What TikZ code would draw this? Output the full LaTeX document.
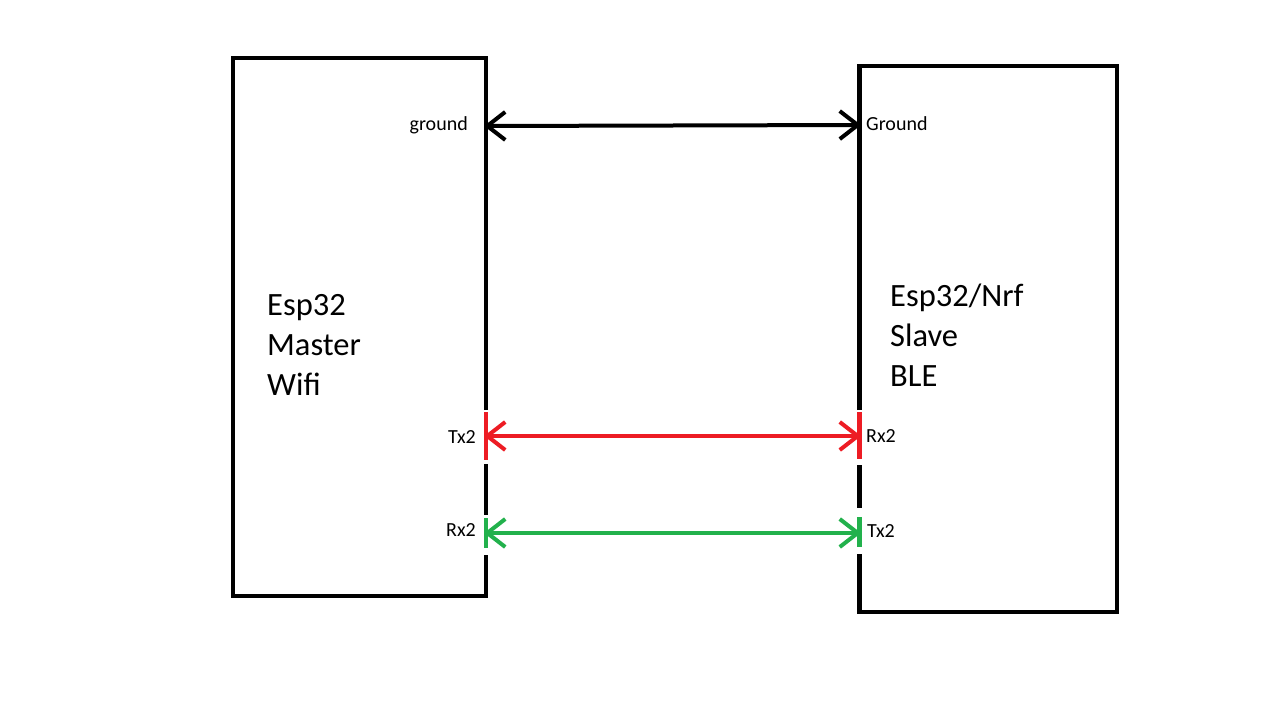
\documentclass[tikz,border=0pt]{standalone}
\usepackage{fontspec}
\setmainfont{Carlito}
\usetikzlibrary{arrows.meta}
\definecolor{myred}{HTML}{ED1C24}
\definecolor{mygreen}{HTML}{22B14C}
\begin{document}
\begin{tikzpicture}[x=1pt,y=-1pt,
  edge/.style={line width=4.5pt},
  conn/.style={line width=4pt,{Straight Barb[length=18pt,width=28pt,line width=4pt]}-{Straight Barb[length=18pt,width=28pt,line width=4pt]}},
  pin/.style={font=\fontsize{20}{22}\selectfont,inner sep=0pt},
  title/.style={font=\fontsize{32.5}{40}\selectfont,align=left,inner sep=0pt,anchor=base west}
]
\useasboundingbox (0,0) rectangle (1280,720);
% boxes (invisible nodes, outlines drawn in segments)
\node[minimum width=253pt,minimum height=538pt,inner sep=0pt] (master) at (359.5,327) {};
\node[minimum width=258pt,minimum height=546pt,inner sep=0pt] (slave) at (988,339) {};
% left box
\draw[edge] (486,410) -- (486,58) -- (233,58) -- (233,596) -- (486,596) -- (486,555);
\draw[edge] (486,464) -- (486,515);
\draw[edge,myred] (486,412) -- (486,460);
\draw[edge,mygreen] (486,518) -- (486,548);
% right box
\draw[edge] (859.5,410) -- (859.5,66) -- (1117,66) -- (1117,612) -- (859.5,612) -- (859.5,554);
\draw[edge] (859.5,465) -- (859.5,508);
\draw[edge,myred] (859.5,412) -- (859.5,459);
\draw[edge,mygreen] (859.5,517) -- (859.5,547);
% pins
\coordinate (mG) at (484,126);
\coordinate (sG) at (861,125);
\coordinate (mTx) at (484,436);
\coordinate (sRx) at (861,436);
\coordinate (mRx) at (484,533);
\coordinate (sTx) at (861,533);
\draw[conn] (mG) -- (sG);
\draw[conn,myred] (mTx) -- (sRx);
\draw[conn,mygreen] (mRx) -- (sTx);
% labels
\node[pin,anchor=east] (lg) at (468,125) {ground};
\node[pin,anchor=west] (rg) at (866,124) {Ground};
\node[pin,anchor=east] (ltx) at (476,437) {Tx2};
\node[pin,anchor=east] (lrx) at (476,530) {Rx2};
\node[pin,anchor=west] (rrx) at (866,436) {Rx2};
\node[pin,anchor=west] (rtx) at (867,531) {Tx2};
\node[title] (mt) at (267,395) {Esp32\\Master\\Wifi};
\node[title] (st) at (890,386) {Esp32/Nrf\\Slave\\BLE};
\end{tikzpicture}
\end{document}
